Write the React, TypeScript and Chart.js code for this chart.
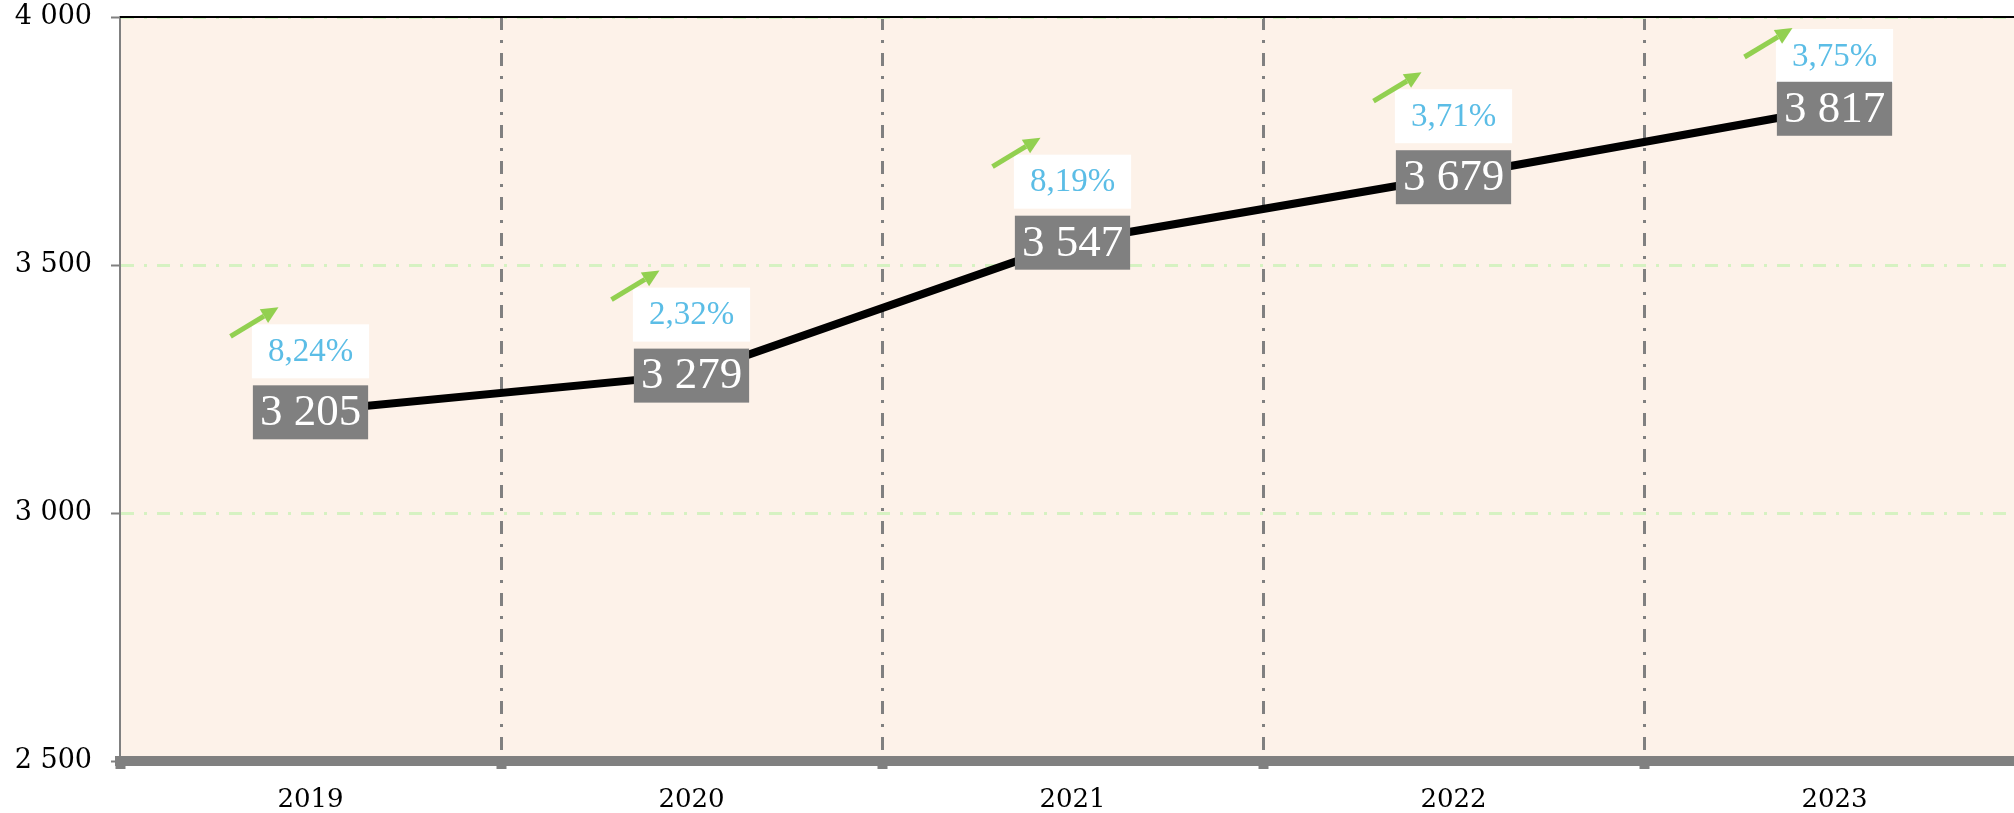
import React, { useEffect, useRef } from 'react';
import { Chart, registerables } from 'chart.js';

Chart.register(...registerables);

// ---- data ----
const years = ['2019', '2020', '2021', '2022', '2023'];
const values = [3205, 3279, 3547, 3679, 3817];
const growthLabels = ['8,24%', '2,32%', '8,19%', '3,71%', '3,75%'];
const yMin = 2500;
const yMax = 4000;
const yStep = 500;

const fmt = (v: number) => String(Math.round(v)).replace(/\B(?=(\d{3})+(?!\d))/g, ' ');

const GRAY = '#808080';
const BG = '#FDF2E9';
const GREEN = '#92D050';
const BLUE = '#5BBDE6';
const GRID_GREEN = '#D6F2C2';
const DASH = [13, 10, 3, 10];

function drawArrow(ctx: CanvasRenderingContext2D, sx: number, sy: number, tx: number, ty: number) {
  const ang = Math.atan2(ty - sy, tx - sx);
  const headLen = 17;
  const headHalf = 8;
  const bx = tx - headLen * Math.cos(ang);
  const by = ty - headLen * Math.sin(ang);
  ctx.save();
  ctx.strokeStyle = GREEN;
  ctx.fillStyle = GREEN;
  ctx.lineWidth = 5;
  ctx.lineCap = 'butt';
  ctx.beginPath();
  ctx.moveTo(sx, sy);
  ctx.lineTo(bx, by);
  ctx.stroke();
  ctx.beginPath();
  ctx.moveTo(tx, ty);
  ctx.lineTo(bx + headHalf * Math.sin(ang), by - headHalf * Math.cos(ang));
  ctx.lineTo(bx - headHalf * Math.sin(ang), by + headHalf * Math.cos(ang));
  ctx.closePath();
  ctx.fill();
  ctx.restore();
}

const bgPlugin = {
  id: 'plotBg',
  beforeDraw(chart: any) {
    const { ctx, chartArea } = chart;
    ctx.save();
    ctx.fillStyle = BG;
    ctx.fillRect(chartArea.left, chartArea.top, chartArea.right - chartArea.left, chartArea.bottom - chartArea.top);
    ctx.restore();
  },
  afterDraw(chart: any) {
    const { ctx, chartArea } = chart;
    ctx.save();
    ctx.strokeStyle = '#000';
    ctx.lineWidth = 2;
    ctx.beginPath();
    ctx.moveTo(chartArea.left, chartArea.top);
    ctx.lineTo(chartArea.right, chartArea.top);
    ctx.stroke();
    ctx.restore();
  },
};

const labelPlugin = {
  id: 'valueLabels',
  afterDatasetsDraw(chart: any) {
    const { ctx, chartArea } = chart;
    const meta = chart.getDatasetMeta(0);
    meta.data.forEach((pt: any, i: number) => {
      const x = pt.x;
      const y = pt.y;

      ctx.save();
      ctx.textAlign = 'center';
      ctx.textBaseline = 'middle';
      // growth label (white box)
      ctx.font = '33px "Liberation Serif"';
      const pw = ctx.measureText(growthLabels[i]).width + 32;
      const wTop = Math.max(y - 87, chartArea.top + 12);
      ctx.fillStyle = '#FFFFFF';
      ctx.fillRect(x - pw / 2, wTop, pw, 54);
      ctx.fillStyle = BLUE;
      ctx.fillText(growthLabels[i], x, wTop + 28);

      // value label (gray box)
      ctx.font = '45px "Liberation Serif"';
      const vw = ctx.measureText(fmt(values[i])).width + 14;
      ctx.fillStyle = GRAY;
      ctx.fillRect(x - vw / 2, y - 26, vw, 54);
      ctx.fillStyle = '#FFFFFF';
      ctx.fillText(fmt(values[i]), x, y + 2);
      ctx.restore();

      // arrow
      let sx = x - 80, sy = y - 75, tx = x - 32, ty = y - 104;
      const minTip = chartArea.top + 11;
      if (ty < minTip) {
        const d = minTip - ty;
        sy += d; ty += d; sx -= 10; tx -= 10;
      }
      drawArrow(ctx, sx, sy, tx, ty);
    });
  },
};

export default function App() {
  const ref = useRef<HTMLCanvasElement | null>(null);

  useEffect(() => {
    if (!ref.current) return;
    const chart = new Chart(ref.current, {
      type: 'line',
      data: {
        labels: years,
        datasets: [
          {
            data: values,
            borderColor: '#000000',
            borderWidth: 8,
            pointRadius: 0,
            tension: 0,
            fill: false,
          },
        ],
      },
      options: {
        animation: false,
        responsive: false,
        devicePixelRatio: 1,
        layout: { padding: { top: 17, right: 5, left: 0, bottom: 0 } },
        plugins: {
          legend: { display: false },
          tooltip: { enabled: false },
        },
        scales: {
          x: {
            type: 'category',
            offset: true,
            afterFit: (scale: any) => {
              scale.height = 52;
              scale.paddingLeft = 0;
              scale.paddingRight = 0;
            },
            grid: {
              offset: true,
              color: (c: any) => (c.index === 0 ? 'rgba(0,0,0,0)' : GRAY),
              lineWidth: 3,
              drawTicks: true,
              tickLength: 8,
              tickWidth: 10,
              tickColor: GRAY,
              tickBorderDash: [],
            } as any,
            border: { display: true, color: GRAY, width: 10, dash: DASH },
            ticks: {
              color: '#000',
              font: { family: '"DejaVu Serif"', size: 26 },
              padding: 16,
              maxRotation: 0,
            },
          },
          y: {
            type: 'linear',
            min: yMin,
            max: yMax,
            afterFit: (scale: any) => {
              scale.width = 120;
              scale.paddingTop = 0;
              scale.paddingBottom = 0;
            },
            grid: {
              color: GRID_GREEN,
              lineWidth: 3,
              drawTicks: true,
              tickLength: 9,
              tickWidth: 2,
              tickColor: GRAY,
              tickBorderDash: [],
            } as any,
            border: { display: true, color: GRAY, width: 2, dash: DASH },
            ticks: {
              stepSize: yStep,
              color: '#000',
              font: { family: '"DejaVu Serif"', size: 27 },
              padding: 19,
              callback: (v: any) => fmt(Number(v)),
            },
          },
        },
      },
      plugins: [bgPlugin, labelPlugin],
    } as any);
    return () => chart.destroy();
  }, []);

  return (
    <div
      style={{
        position: 'fixed',
        left: 0,
        top: 0,
        width: 2014,
        height: 813,
        overflow: 'hidden',
        background: '#fff',
      }}
    >
      <canvas ref={ref} width={2030} height={813} style={{ display: 'block' }} />
    </div>
  );
}
